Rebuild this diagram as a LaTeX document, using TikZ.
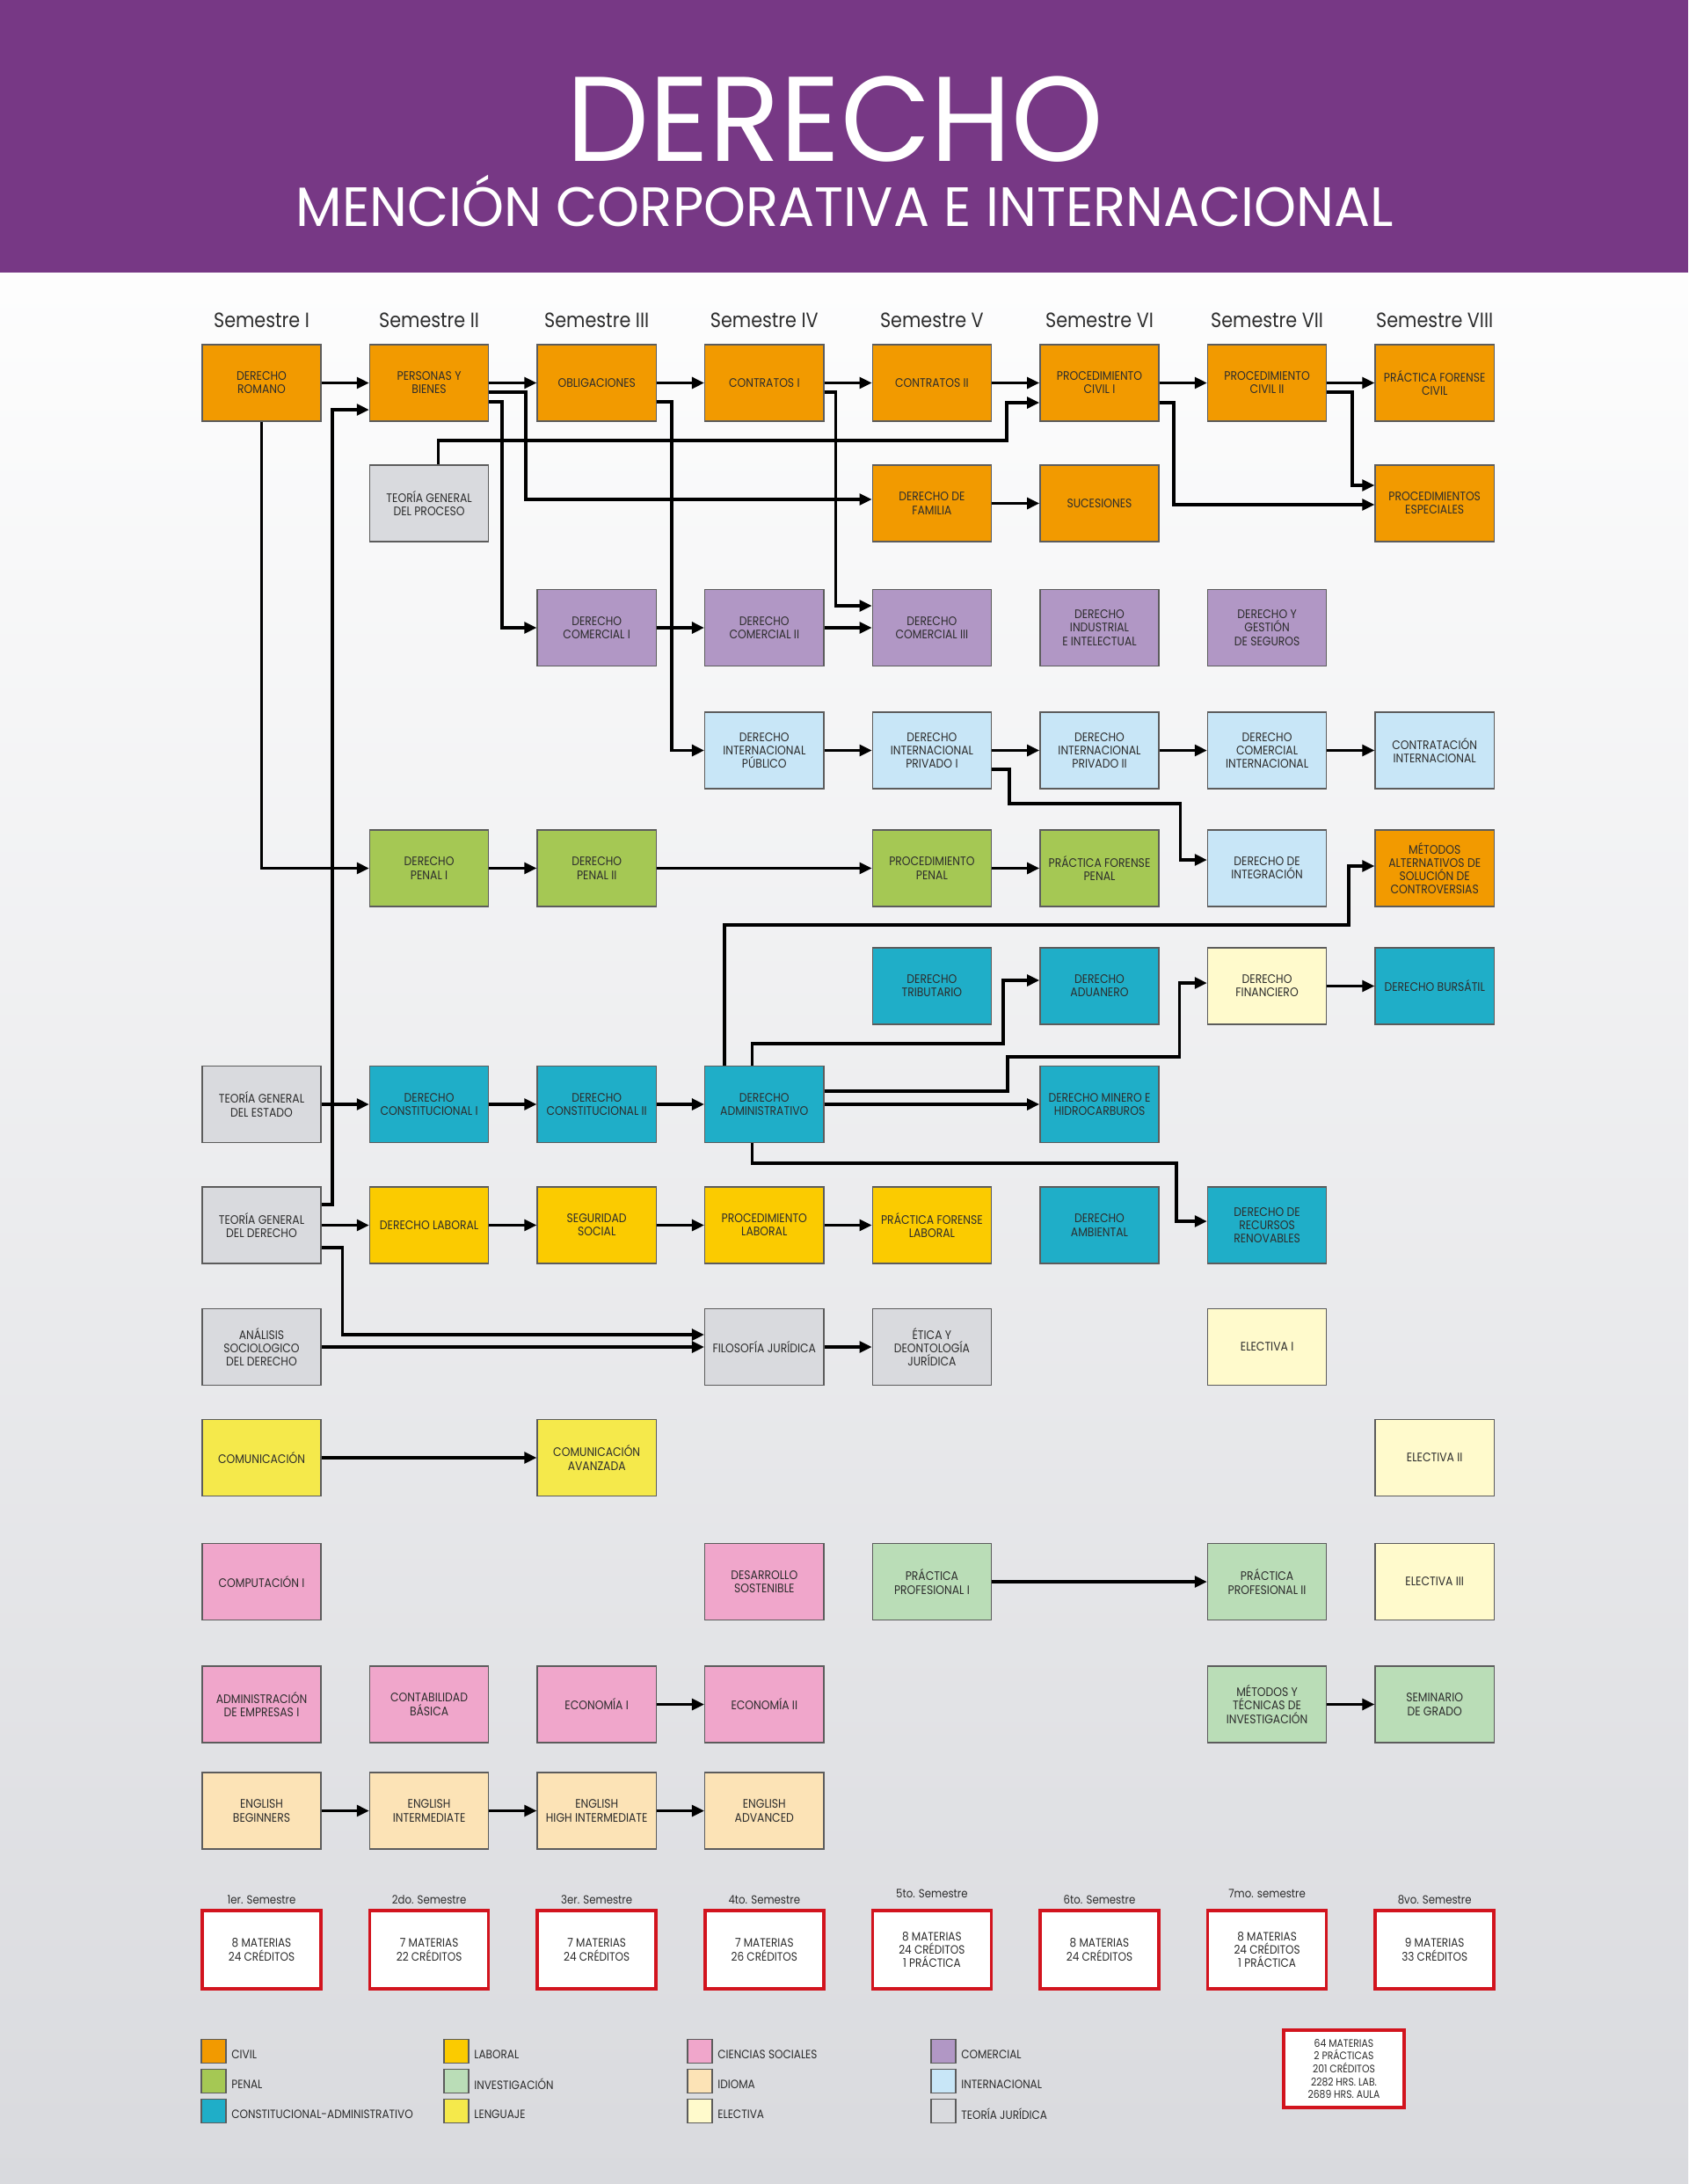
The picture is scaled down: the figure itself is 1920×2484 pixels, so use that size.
\documentclass[tikz,border=0pt]{standalone}
\usepackage{fontspec}
\setmainfont{Poppins}[FakeStretch=0.88]
\newfontfamily\titulofont{Poppins}[FakeStretch=0.97]
\usetikzlibrary{arrows.meta,positioning}
\definecolor{morado}{HTML}{773885}
\definecolor{naranja}{HTML}{F29A00}
\definecolor{verde}{HTML}{A5C854}
\definecolor{turquesa}{HTML}{1FAEC8}
\definecolor{amarillo}{HTML}{FBCB00}
\definecolor{verdeclaro}{HTML}{BADDB7}
\definecolor{limon}{HTML}{F5E94B}
\definecolor{rosa}{HTML}{F0A6CB}
\definecolor{durazno}{HTML}{FCE3B6}
\definecolor{crema}{HTML}{FFFACC}
\definecolor{lila}{HTML}{B197C5}
\definecolor{celeste}{HTML}{C8E6F7}
\definecolor{gris}{HTML}{D9DADE}
\definecolor{borde}{HTML}{5C5C5C}
\definecolor{texto}{HTML}{2D2D2D}
\definecolor{rojo}{HTML}{D2141E}

\tikzset{
  materia/.style={draw=borde, line width=0.4pt, minimum width=1.35cm, minimum height=0.87cm,
    inner sep=0pt, align=center, text=texto, font=\fontsize{4pt}{4.3pt}\selectfont},
  civil/.style={materia, fill=naranja},
  penal/.style={materia, fill=verde},
  consti/.style={materia, fill=turquesa},
  laboral/.style={materia, fill=amarillo},
  invest/.style={materia, fill=verdeclaro},
  lenguaje/.style={materia, fill=limon},
  sociales/.style={materia, fill=rosa},
  idioma/.style={materia, fill=durazno},
  electiva/.style={materia, fill=crema},
  comercial/.style={materia, fill=lila},
  intl/.style={materia, fill=celeste},
  teoria/.style={materia, fill=gris},
  flecha/.style={line width=1pt, -{Triangle[length=4pt,width=3.6pt]}},
  resumen/.style={draw=rojo, line width=1pt, fill=white, minimum width=1.35cm, minimum height=0.89cm,
    inner sep=0pt, align=center, text=texto, font=\fontsize{3.9pt}{4.4pt}\selectfont},
  muestra/.style={draw=borde, line width=0.4pt, minimum width=0.28cm, minimum height=0.27cm, inner sep=0pt},
  rotulo/.style={inner sep=0pt, yshift=-1pt, text=texto, font=\fontsize{3.9pt}{4pt}\selectfont},
}

\begin{document}
\begin{tikzpicture}[x=0.01cm, y=-0.01cm]
    \useasboundingbox (0,0) rectangle (1920,2484);

    % Fondo y encabezado
    \shade[top color=white!95!gris, bottom color=gris] (0,310) rectangle (1920,2484);
    \fill[morado] (0,0) rectangle (1920,310);
    \node[anchor=base, inner sep=0pt, white, font=\titulofont\fontsize{39pt}{39pt}\selectfont] (titulo) at (950,183) {DERECHO};
    \node[anchor=base, inner sep=0pt, white, font=\titulofont\fontsize{17.9pt}{18pt}\selectfont] (subtitulo) at (961,257) {MENCIÓN CORPORATIVA E INTERNACIONAL};

    % Semestres
    \foreach \s [count=\i from 0] in {I,II,III,IV,V,VI,VII,VIII}
        \node[anchor=base, text=texto, font=\fontsize{6.7pt}{7pt}\selectfont] (sem\i) at (297.5+\i*190.6,372) {Semestre \s};

    % Fila 1
    \node[civil] (rom) at (297.5,435.5) {DERECHO\\ROMANO};
    \node[civil] (pyb) at (488.1,435.5) {PERSONAS Y\\BIENES};
    \node[civil] (obl) at (678.7,435.5) {OBLIGACIONES};
    \node[civil] (con1) at (869.3,435.5) {CONTRATOS I};
    \node[civil] (con2) at (1059.9,435.5) {CONTRATOS II};
    \node[civil] (pc1) at (1250.5,435.5) {PROCEDIMIENTO\\CIVIL I};
    \node[civil] (pc2) at (1441.1,435.5) {PROCEDIMIENTO\\CIVIL II};
    \node[civil] (pfc) at (1631.7,435.5) {PRÁCTICA FORENSE\\CIVIL};

    % Fila 2
    \node[teoria] (tgp) at (488.1,572.5) {TEORÍA GENERAL\\DEL PROCESO};
    \node[civil] (fam) at (1059.9,572.5) {DERECHO DE\\FAMILIA};
    \node[civil] (suc) at (1250.5,572.5) {SUCESIONES};
    \node[civil] (pesp) at (1631.7,572.5) {PROCEDIMIENTOS\\ESPECIALES};

    % Fila 3
    \node[comercial] (com1) at (678.7,714) {DERECHO\\COMERCIAL I};
    \node[comercial] (com2) at (869.3,714) {DERECHO\\COMERCIAL II};
    \node[comercial] (com3) at (1059.9,714) {DERECHO\\COMERCIAL III};
    \node[comercial] (dind) at (1250.5,714) {DERECHO\\INDUSTRIAL\\E INTELECTUAL};
    \node[comercial] (dseg) at (1441.1,714) {DERECHO Y\\GESTIÓN\\DE SEGUROS};

    % Fila 4
    \node[intl] (dip) at (869.3,853.5) {DERECHO\\INTERNACIONAL\\PÚBLICO};
    \node[intl] (dipr1) at (1059.9,853.5) {DERECHO\\INTERNACIONAL\\PRIVADO I};
    \node[intl] (dipr2) at (1250.5,853.5) {DERECHO\\INTERNACIONAL\\PRIVADO II};
    \node[intl] (dci) at (1441.1,853.5) {DERECHO\\COMERCIAL\\INTERNACIONAL};
    \node[intl] (cint) at (1631.7,853.5) {CONTRATACIÓN\\INTERNACIONAL};

    % Fila 5
    \node[penal] (pen1) at (488.1,987.5) {DERECHO\\PENAL I};
    \node[penal] (pen2) at (678.7,987.5) {DERECHO\\PENAL II};
    \node[penal] (ppen) at (1059.9,987.5) {PROCEDIMIENTO\\PENAL};
    \node[penal] (pfp) at (1250.5,987.5) {PRÁCTICA FORENSE\\PENAL};
    \node[intl] (dint) at (1441.1,987.5) {DERECHO DE\\INTEGRACIÓN};
    \node[civil] (masc) at (1631.7,987.5) {MÉTODOS\\ALTERNATIVOS DE\\SOLUCIÓN DE\\CONTROVERSIAS};

    % Fila 6
    \node[consti] (trib) at (1059.9,1121.5) {DERECHO\\TRIBUTARIO};
    \node[consti] (adu) at (1250.5,1121.5) {DERECHO\\ADUANERO};
    \node[electiva] (fin) at (1441.1,1121.5) {DERECHO\\FINANCIERO};
    \node[consti] (burs) at (1631.7,1121.5) {DERECHO BURSÁTIL};

    % Fila 7
    \node[teoria] (tge) at (297.5,1256) {TEORÍA GENERAL\\DEL ESTADO};
    \node[consti] (cons1) at (488.1,1256) {DERECHO\\CONSTITUCIONAL I};
    \node[consti] (cons2) at (678.7,1256) {DERECHO\\CONSTITUCIONAL II};
    \node[consti] (adm) at (869.3,1256) {DERECHO\\ADMINISTRATIVO};
    \node[consti] (dmin) at (1250.5,1256) {DERECHO MINERO E\\HIDROCARBUROS};

    % Fila 8
    \node[teoria] (tgd) at (297.5,1393.5) {TEORÍA GENERAL\\DEL DERECHO};
    \node[laboral] (lab) at (488.1,1393.5) {DERECHO LABORAL};
    \node[laboral] (ss) at (678.7,1393.5) {SEGURIDAD\\SOCIAL};
    \node[laboral] (plab) at (869.3,1393.5) {PROCEDIMIENTO\\LABORAL};
    \node[laboral] (pfl) at (1059.9,1393.5) {PRÁCTICA FORENSE\\LABORAL};
    \node[consti] (amb) at (1250.5,1393.5) {DERECHO\\AMBIENTAL};
    \node[consti] (rren) at (1441.1,1393.5) {DERECHO DE\\RECURSOS\\RENOVABLES};

    % Fila 9
    \node[teoria] (asd) at (297.5,1532) {ANÁLISIS\\SOCIOLOGICO\\DEL DERECHO};
    \node[teoria] (fil) at (869.3,1532) {FILOSOFÍA JURÍDICA};
    \node[teoria] (eti) at (1059.9,1532) {ÉTICA Y\\DEONTOLOGÍA\\JURÍDICA};
    \node[electiva] (ele1) at (1441.1,1532) {ELECTIVA I};

    % Fila 10
    \node[lenguaje] (comu) at (297.5,1658) {COMUNICACIÓN};
    \node[lenguaje] (coma) at (678.7,1658) {COMUNICACIÓN\\AVANZADA};
    \node[electiva] (ele2) at (1631.7,1658) {ELECTIVA II};

    % Fila 11
    \node[sociales] (cmp) at (297.5,1799) {COMPUTACIÓN I};
    \node[sociales] (dsos) at (869.3,1799) {DESARROLLO\\SOSTENIBLE};
    \node[invest] (pp1) at (1059.9,1799) {PRÁCTICA\\PROFESIONAL I};
    \node[invest] (pp2) at (1441.1,1799) {PRÁCTICA\\PROFESIONAL II};
    \node[electiva] (ele3) at (1631.7,1799) {ELECTIVA III};

    % Fila 12
    \node[sociales] (adme) at (297.5,1938.5) {ADMINISTRACIÓN\\DE EMPRESAS I};
    \node[sociales] (cont) at (488.1,1938.5) {CONTABILIDAD\\BÁSICA};
    \node[sociales] (eco1) at (678.7,1938.5) {ECONOMÍA I};
    \node[sociales] (eco2) at (869.3,1938.5) {ECONOMÍA II};
    \node[invest] (mti) at (1441.1,1938.5) {MÉTODOS Y\\TÉCNICAS DE\\INVESTIGACIÓN};
    \node[invest] (sgr) at (1631.7,1938.5) {SEMINARIO\\DE GRADO};

    % Fila 13
    \node[idioma] (eng1) at (297.5,2059.5) {ENGLISH\\BEGINNERS};
    \node[idioma] (eng2) at (488.1,2059.5) {ENGLISH\\INTERMEDIATE};
    \node[idioma] (eng3) at (678.7,2059.5) {ENGLISH\\HIGH INTERMEDIATE};
    \node[idioma] (eng4) at (869.3,2059.5) {ENGLISH\\ADVANCED};

    % Flechas rectas
    \foreach \a/\b in {rom/pyb, pyb/obl, obl/con1, con1/con2, con2/pc1, pc1/pc2, pc2/pfc,
        fam/suc, com1/com2, com2/com3, dip/dipr1, dipr1/dipr2, dipr2/dci, dci/cint,
        pen1/pen2, pen2/ppen, ppen/pfp, fin/burs, tge/cons1, cons1/cons2, cons2/adm, adm/dmin,
        tgd/lab, lab/ss, ss/plab, plab/pfl, asd/fil, fil/eti, comu/coma, pp1/pp2,
        eco1/eco2, mti/sgr, eng1/eng2, eng2/eng3, eng3/eng4}
        \draw[flecha] (\a) -- (\b);

    % Flechas con quiebres
    \draw[flecha] (rom.south) |- (pen1.west);
    \draw[flecha] (tgd.east |- 0,1370) -| (378,466) -- (pyb.west |- 0,466);
    \draw[flecha] (pyb.east |- 0,446) -- (598,446) |- (fam.west |- 0,568);
    \draw[flecha] (pyb.east |- 0,457) -- (571,457) |- (com1.west);
    \draw[flecha] (obl.east |- 0,457) -- (764,457) |- (dip.west);
    \draw[flecha] (con1.east |- 0,446) -- (950.5,446) |- (com3.west |- 0,689);
    \draw[flecha] (tgp.north -| 498.5,0) |- (1145,501) |- (pc1.west |- 0,458);
    \draw[flecha] (pc1.east |- 0,458) -- (1335,458) |- (pesp.west |- 0,574);
    \draw[flecha] (pc2.east |- 0,446) -- (1538,446) |- (pesp.west |- 0,552);
    \draw[flecha] (dipr1.east |- 0,875) -- (1148,875) |- (1342.6,914) |- (dint.west |- 0,978);
    \draw[flecha] (adm.north -| 824,0) |- (1534,1052) |- (masc.west |- 0,985);
    \draw[flecha] (adm.north -| 855.5,0) |- (1141,1187) |- (adu.west |- 0,1115);
    \draw[flecha] (adm.east |- 0,1241) -- (1146,1241) |- (1341.5,1202) |- (fin.west |- 0,1118);
    \draw[flecha] (adm.south -| 855.5,0) |- (1338,1323) |- (rren.west |- 0,1389);
    \draw[flecha] (tgd.east |- 0,1419) -- (389.5,1419) |- (fil.west |- 0,1518);

    % Resumen por semestre
    \foreach \lab/\txt/\ly [count=\i from 0] in {
        1er. Semestre/{8 MATERIAS\\24 CRÉDITOS}/2165,
        2do. Semestre/{7 MATERIAS\\22 CRÉDITOS}/2165,
        3er. Semestre/{7 MATERIAS\\24 CRÉDITOS}/2165,
        4to. Semestre/{7 MATERIAS\\26 CRÉDITOS}/2165,
        5to. Semestre/{8 MATERIAS\\24 CRÉDITOS\\1 PRÁCTICA}/2158,
        6to. Semestre/{8 MATERIAS\\24 CRÉDITOS}/2165,
        7mo. semestre/{8 MATERIAS\\24 CRÉDITOS\\1 PRÁCTICA}/2158,
        8vo. Semestre/{9 MATERIAS\\33 CRÉDITOS}/2165}
    {
        \node[anchor=base, inner sep=0pt, text=texto, font=\fontsize{3.8pt}{4pt}\selectfont] (etq\i) at (297.5+\i*190.6,\ly) {\lab};
        \node[resumen] (res\i) at (297.5+\i*190.6,2217.5) {\txt};
    }

    % Leyenda
    \node[muestra, fill=naranja] (lcivil) at (243,2333) {};
    \node[muestra, fill=verde] (lpenal) at (243,2367) {};
    \node[muestra, fill=turquesa] (lconsti) at (243,2401) {};
    \node[muestra, fill=amarillo] (llaboral) at (519,2333) {};
    \node[muestra, fill=verdeclaro] (linvest) at (519,2367) {};
    \node[muestra, fill=limon] (llenguaje) at (519,2401) {};
    \node[muestra, fill=rosa] (lsociales) at (796,2333) {};
    \node[muestra, fill=durazno] (lidioma) at (796,2367) {};
    \node[muestra, fill=crema] (lelectiva) at (796,2401) {};
    \node[muestra, fill=lila] (lcomercial) at (1073,2333) {};
    \node[muestra, fill=celeste] (lintl) at (1073,2367) {};
    \node[muestra, fill=gris] (lteoria) at (1073,2401) {};

    \node[rotulo, right=1.4pt of lcivil] {CIVIL};
    \node[rotulo, right=1.4pt of lpenal] {PENAL};
    \node[rotulo, right=1.4pt of lconsti] {CONSTITUCIONAL-ADMINISTRATIVO};
    \node[rotulo, right=1.4pt of llaboral] {LABORAL};
    \node[rotulo, right=1.4pt of linvest] {INVESTIGACIÓN};
    \node[rotulo, right=1.4pt of llenguaje] {LENGUAJE};
    \node[rotulo, right=1.4pt of lsociales] {CIENCIAS SOCIALES};
    \node[rotulo, right=1.4pt of lidioma] {IDIOMA};
    \node[rotulo, right=1.4pt of lelectiva] {ELECTIVA};
    \node[rotulo, right=1.4pt of lcomercial] {COMERCIAL};
    \node[rotulo, right=1.4pt of lintl] {INTERNACIONAL};
    \node[rotulo, right=1.4pt of lteoria] {TEORÍA JURÍDICA};

    % Total
    \node[resumen, minimum width=1.37cm, minimum height=0.88cm, font=\fontsize{3.5pt}{4.15pt}\selectfont] (total) at (1528.5,2353)
        {64 MATERIAS\\2 PRÁCTICAS\\201 CRÉDITOS\\2282 HRS. LAB.\\2689 HRS. AULA};

\end{tikzpicture}
\end{document}
